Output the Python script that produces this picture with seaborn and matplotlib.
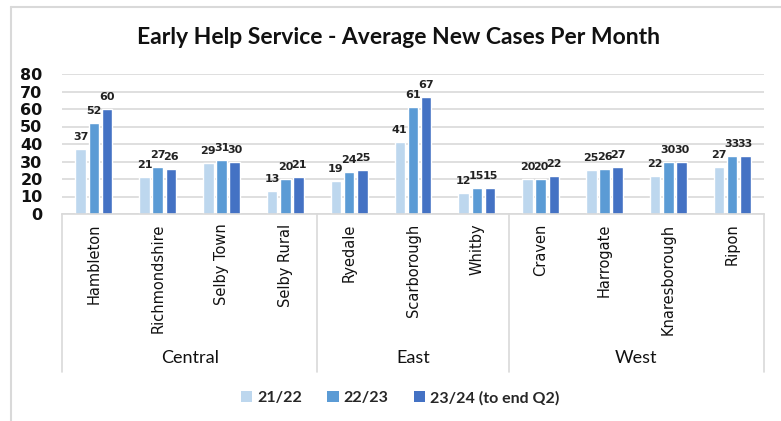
import matplotlib
matplotlib.use("Agg")
import matplotlib.pyplot as plt
import seaborn as sns
import pandas as pd
from matplotlib.lines import Line2D
from matplotlib.patches import Patch

areas = ["Hambleton", "Richmondshire", "Selby Town", "Selby Rural",
         "Ryedale", "Scarborough", "Whitby",
         "Craven", "Harrogate", "Knaresborough", "Ripon"]
groups = ["Central", "East", "West"]
group_sizes = [4, 3, 4]
series = ["21/22", "22/23", "23/24 (to end Q2)"]
v_2122 = [37, 21, 29, 13, 19, 41, 12, 20, 25, 22, 27]
v_2223 = [52, 27, 31, 20, 24, 61, 15, 20, 26, 30, 33]
v_2324 = [60, 26, 30, 21, 25, 67, 15, 22, 27, 30, 33]
colors = ["#BDD7EE", "#5B9BD5", "#4472C4"]
yticks = [0, 10, 20, 30, 40, 50, 60, 70, 80]

rows = []
for s, vals in zip(series, [v_2122, v_2223, v_2324]):
    for a, v in zip(areas, vals):
        rows.append({"Area": a, "Series": s, "Value": v})
df = pd.DataFrame(rows)

sns.set_theme(style="white")
W, H = 781, 421
fig = plt.figure(figsize=(W / 100, H / 100), dpi=100)
ax = fig.add_axes([62 / W, 1 - 214 / H, (764 - 62) / W, (214 - 74) / H])

sns.barplot(data=df, x="Area", y="Value", hue="Series", order=areas,
            hue_order=series, palette=colors, width=0.62, gap=0.2,
            saturation=1, ax=ax, legend=False)

ax.set_xlim(-0.5, len(areas) - 0.5)
ax.set_ylim(0, 80)
ax.set_yticks(yticks)
ax.set_yticklabels([str(t) for t in yticks], fontsize=11.5,
                   fontweight="bold", family="DejaVu Sans", color="#111111")
ax.tick_params(axis="y", length=0, pad=14)
ax.tick_params(axis="x", length=0, pad=7)
ax.set_xticks(range(len(areas)))
ax.set_xticklabels(areas, rotation=90, fontsize=10.5, family="DejaVu Sans",
                   color="#111111", va="top")
ax.set_xlabel("")
ax.set_ylabel("")
ax.yaxis.grid(True, color="#D9D9D9", linewidth=1.2)
ax.set_axisbelow(True)
for sp in ["top", "right", "left"]:
    ax.spines[sp].set_visible(False)
ax.spines["bottom"].set_color("#D9D9D9")
ax.spines["bottom"].set_linewidth(1.2)

for cont in ax.containers:
    ax.bar_label(cont, fmt="%d", padding=5, fontsize=8, fontweight="bold",
                 family="DejaVu Sans", color="#222222")

# group separators & labels
trans = matplotlib.transforms.blended_transform_factory(ax.transData, fig.transFigure)
y_top = 1 - 214 / H
y_bot = 1 - 372 / H
edges = [-0.5]
for n in group_sizes:
    edges.append(edges[-1] + n)
for e in edges:
    fig.add_artist(Line2D([e, e], [y_top, y_bot], transform=trans,
                          color="#D9D9D9", linewidth=1.2))
for g, lo, hi in zip(groups, edges[:-1], edges[1:]):
    fig.text((lo + hi) / 2, 1 - 358 / H, g, transform=trans, ha="center",
             va="center", fontsize=13, family="Lato", color="#111111")

fig.text(398 / W, 1 - 37 / H, "Early Help Service - Average New Cases Per Month",
         ha="center", va="center", fontsize=16.5, fontweight="bold",
         family="Lato", color="#111111")

handles = [Patch(facecolor=c, edgecolor="none") for c in colors]
fig.legend(handles, series, loc="center", bbox_to_anchor=(400 / W, 1 - 398 / H),
           ncol=3, frameon=False, handlelength=0.7, handleheight=0.7,
           handletextpad=0.3, columnspacing=1.6,
           prop={"family": "Lato", "size": 11.5, "weight": "bold"})

# outer frame (left and top edges visible)
fig.add_artist(Line2D([11 / W, 11 / W], [0, 1 - 7 / H], transform=fig.transFigure,
                      color="#D9D9D9", linewidth=1.5))
fig.add_artist(Line2D([11 / W, 1], [1 - 7 / H, 1 - 7 / H], transform=fig.transFigure,
                      color="#D9D9D9", linewidth=1.5))

fig.savefig("out.png", dpi=100)
